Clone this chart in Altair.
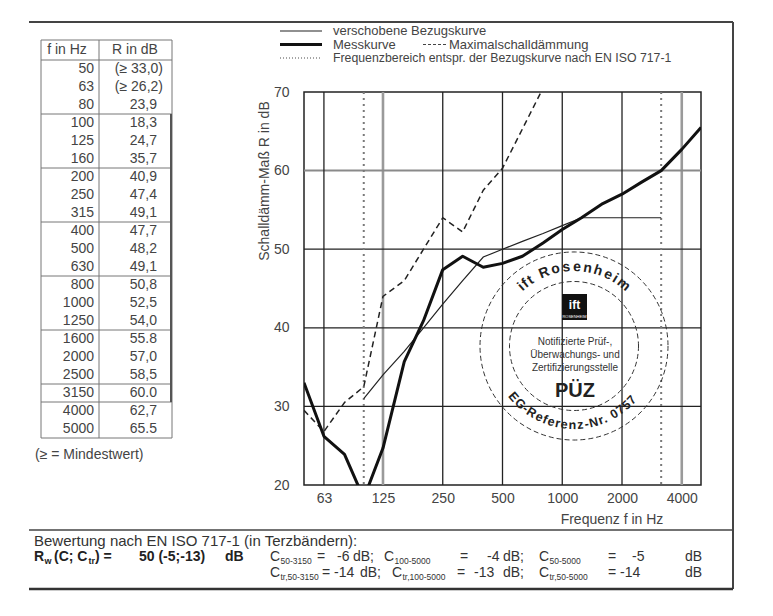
import altair as alt
import pandas as pd

# ---------------- data ----------------
freqs = [50, 63, 80, 100, 125, 160, 200, 250, 315, 400, 500, 630, 800, 1000, 1250, 1600, 2000, 2500, 3150, 4000, 5000]
r_measured = [33.0, 26.2, 23.9, 18.3, 24.7, 35.7, 40.9, 47.4, 49.1, 47.7, 48.2, 49.1, 50.8, 52.5, 54.0, 55.8, 57.0, 58.5, 60.0, 62.7, 65.5]
r_labels = ["(≥ 33,0)", "(≥ 26,2)", "23,9", "18,3", "24,7", "35,7", "40,9", "47,4", "49,1", "47,7", "48,2",
            "49,1", "50,8", "52,5", "54,0", "55.8", "57,0", "58,5", "60.0", "62,7", "65.5"]
ref_freqs = [100, 125, 160, 200, 250, 315, 400, 500, 630, 800, 1000, 1250, 1600, 2000, 2500, 3150]
ref_shifted = [31, 34, 37, 40, 43, 46, 49, 50, 51, 52, 53, 54, 54, 54, 54, 54]
max_freqs = [50, 63, 80, 100, 125, 160, 200, 250, 315, 400, 500, 630, 800]
max_values = [29.5, 26.8, 30.5, 32.5, 44.0, 46.0, 50.0, 54.0, 52.2, 57.5, 60.3, 65.3, 70.5]
x_tick_values = [63, 125, 250, 500, 1000, 2000, 4000]
y_tick_values = [20, 30, 40, 50, 60, 70]
grid_f_dark = [63, 250, 500, 1000, 2000]
grid_f_light = [125, 4000]
grid_r_dark = [30, 40, 50]
grid_r_light = [60]
range_limits = [100, 3150]
table_group_rows = [2, 5, 8, 11, 14, 17, 18]   # separator drawn below these rows

# ---------------- layout ----------------
OX, OY = 304, 92          # page position of plot origin
W, H = 397, 393
FONT = "Liberation Sans"
INK = "#3a3a3a"

X = alt.X("f:Q", scale=alt.Scale(type="log", domain=[50, 5000], nice=False),
          axis=alt.Axis(values=x_tick_values, format="d", title=None, grid=False, ticks=False,
                        domain=False, labelPadding=6, labelFontSize=14, labelColor="#444",
                        labelFont=FONT, labelFlush=False, labelOverlap=False))
Y = alt.Y("r:Q", scale=alt.Scale(domain=[20, 70], nice=False, zero=False),
          axis=alt.Axis(values=y_tick_values, title=None, grid=False, ticks=False, domain=False,
                        labelPadding=15, labelFontSize=14, labelColor="#444", labelFont=FONT,
                        labelFlush=False, labelOverlap=False))


def segs(items, color, width, dash=None):
    df = pd.DataFrame(items, columns=["x1", "y1", "x2", "y2"])
    df[["x1", "x2"]] = df[["x1", "x2"]] - OX
    df[["y1", "y2"]] = df[["y1", "y2"]] - OY
    kw = dict(color=color, strokeWidth=width)
    if dash:
        kw["strokeDash"] = dash
    return alt.Chart(df).mark_rule(**kw).encode(
        x=alt.X("x1:Q", scale=None, axis=None), x2="x2:Q",
        y=alt.Y("y1:Q", scale=None, axis=None), y2="y2:Q")


def texts(items, size=14, weight="normal", align="left", color=INK, angle=None, baseline="middle"):
    df = pd.DataFrame(items, columns=["t", "x", "y"])
    df["x"] = df["x"] - OX
    df["y"] = df["y"] - OY
    kw = dict(size=size, fontWeight=weight, align=align, baseline=baseline, color=color, font=FONT)
    if angle is not None:
        kw["angle"] = angle
    return alt.Chart(df).mark_text(**kw).encode(
        x=alt.X("x:Q", scale=None, axis=None), y=alt.Y("y:Q", scale=None, axis=None), text="t:N")


layers = []

# grid
layers.append(alt.Chart(pd.DataFrame({"f": grid_f_light})).mark_rule(color="#9a9a9a", strokeWidth=2.6).encode(x=X))
layers.append(alt.Chart(pd.DataFrame({"r": grid_r_light})).mark_rule(color="#8a8a8a", strokeWidth=2).encode(y=Y))
layers.append(alt.Chart(pd.DataFrame({"f": grid_f_dark})).mark_rule(color="#222", strokeWidth=1.3).encode(x=X))
layers.append(alt.Chart(pd.DataFrame({"r": grid_r_dark})).mark_rule(color="#222", strokeWidth=1.3).encode(y=Y))
layers.append(alt.Chart(pd.DataFrame({"f": range_limits})).mark_rule(
    color="#7a7a7a", strokeWidth=2, strokeDash=[2, 4]).encode(x=X))

# ---------------- stamp ----------------
CX, CY = 574 - OX, 346 - OY
layers.append(alt.Chart(pd.DataFrame({"d": [188, 129]})).transform_calculate(s="datum.d*datum.d").mark_point(
    shape="circle", filled=False, stroke="#333", strokeWidth=1, strokeDash=[5, 3], opacity=1).encode(
    x=alt.value(CX), y=alt.value(CY), size=alt.Size("s:Q", scale=None, legend=None)))


def char_w(c):
    if c in "ijl.": return 0.28
    if c in "ft -": return 0.34
    if c == "r": return 0.39
    if c.isdigit(): return 0.556
    if c.isupper(): return 0.72
    if c == "m": return 0.89
    return 0.6


def arc_chars(s, a_start, a_end):
    ws = [char_w(c) for c in s]
    cum, pos = 0, []
    for w in ws:
        pos.append(cum + w / 2)
        cum += w
    p0, p1 = pos[0], pos[-1]
    return pd.DataFrame({"c": list(s), "a": [a_start + (p - p0) / (p1 - p0) * (a_end - a_start) for p in pos]})


R_TXT = 79
top = arc_chars("ift Rosenheim", -42, 39)
layers.append(alt.Chart(top).transform_calculate(
    px=f"{CX} + {R_TXT}*sin(datum.a*PI/180)",
    py=f"{CY} - {R_TXT}*cos(datum.a*PI/180)",
    ang="(datum.a + 360) % 360").mark_text(
    size=14, fontWeight="bold", color="#222", font=FONT, baseline="middle", align="center").encode(
    x=alt.X("px:Q", scale=None, axis=None), y=alt.Y("py:Q", scale=None, axis=None),
    text="c:N", angle=alt.Angle("ang:Q", scale=None)))
bot = arc_chars("EG-Referenz-Nr. 0757", 50, -47)
layers.append(alt.Chart(bot).transform_calculate(
    px=f"{CX} - {R_TXT}*sin(datum.a*PI/180)",
    py=f"{CY} + {R_TXT}*cos(datum.a*PI/180)",
    ang="(datum.a + 360) % 360").mark_text(
    size=12.5, fontWeight="bold", color="#222", font=FONT, baseline="middle", align="center").encode(
    x=alt.X("px:Q", scale=None, axis=None), y=alt.Y("py:Q", scale=None, axis=None),
    text="c:N", angle=alt.Angle("ang:Q", scale=None)))
layers.append(alt.Chart(pd.DataFrame({"k": [0]})).mark_rect(color="#111").encode(
    x=alt.value(562 - OX), x2=alt.value(587 - OX), y=alt.value(294 - OY), y2=alt.value(320 - OY)))
layers.append(texts([("ift", 574.5, 305)], size=12, weight="bold", align="center", color="white"))
layers.append(texts([("ROSENHEIM", 574.5, 316.5)], size=4, align="center", color="white"))
layers.append(texts([("Notifizierte Prüf-,", 575, 342), ("Überwachungs- und", 575, 355),
                     ("Zertifizierungsstelle", 575, 368)], size=10, align="center", color="#333"))
layers.append(texts([("PÜZ", 575, 391)], size=20, weight="bold", align="center", color="#222"))

# ---------------- curves ----------------
layers.append(alt.Chart(pd.DataFrame({"f": ref_freqs, "r": ref_shifted})).mark_line(
    color="#222", strokeWidth=1.2, clip=True).encode(x=X, y=Y))
layers.append(alt.Chart(pd.DataFrame({"f": max_freqs, "r": max_values})).mark_line(
    color="#222", strokeWidth=1.5, strokeDash=[6, 4], clip=True).encode(x=X, y=Y))
layers.append(alt.Chart(pd.DataFrame({"f": freqs, "r": r_measured})).mark_line(
    color="#111", strokeWidth=3, clip=True, strokeJoin="round").encode(x=X, y=Y))

# ---------------- axis titles ----------------
layers.append(texts([("Schalldämm-Maß R in dB", 265, 181)], size=14, align="center", angle=270, color="#444"))
layers.append(texts([("Frequenz f in Hz", 612, 520)], size=14, align="center", color="#444"))

# ---------------- legend ----------------
layers.append(segs([(280, 31, 322, 31)], "#222", 1.2))
layers.append(segs([(280, 44.5, 322, 44.5)], "#111", 3))
layers.append(segs([(280, 58, 322, 58)], "#888", 1.5, [1, 2]))
layers.append(segs([(423, 44.5, 447, 44.5)], "#444", 1, [3, 2]))
layers.append(texts([("verschobene Bezugskurve", 333, 31), ("Messkurve", 333, 44.5)], size=13, color="#444"))
layers.append(texts([("Maximalschalldämmung", 449, 44.5)], size=13, color="#444"))
layers.append(texts([("Frequenzbereich entspr. der Bezugskurve nach EN ISO 717-1", 333, 58)],
                    size=12.3, color="#444"))

# ---------------- frame ----------------
layers.append(segs([(29, 22, 733, 22), (733, 22, 733, 589)], "#444", 2))
layers.append(segs([(29, 530, 733, 530)], "#444", 1.5))
layers.append(segs([(29, 589, 733, 589)], "#333", 2.5))

# ---------------- table ----------------
T_TOP, T_HEAD, RH = 40, 60, 18
t_bottom = T_HEAD + RH * len(freqs)
hlines = [(41, T_TOP, 172, T_TOP), (41, T_HEAD, 172, T_HEAD), (41, t_bottom, 172, t_bottom)]
hlines += [(41, T_HEAD + RH * (k + 1), 172, T_HEAD + RH * (k + 1)) for k in table_group_rows]
vlines = [(x, T_TOP, x, t_bottom) for x in (41, 99, 172)]
layers.append(segs(hlines + vlines, "#777", 1))
layers.append(segs([(171, T_HEAD + RH * 3, 171, T_HEAD + RH * 19)], "#555", 2))
layers.append(texts([("f in Hz", 67, 50), ("R in dB", 135, 50)], size=14, align="center", color="#444"))
tab = pd.DataFrame({"f": freqs, "lab": r_labels, "row": list(range(len(freqs)))})
row_y = f"{T_HEAD + RH / 2 - OY} + datum.row*{RH}"
layers.append(alt.Chart(tab).transform_calculate(px=f"{94 - OX}", py=row_y).mark_text(
    align="right", baseline="middle", size=14, font=FONT, color="#444").encode(
    x=alt.X("px:Q", scale=None, axis=None), y=alt.Y("py:Q", scale=None, axis=None),
    text=alt.Text("f:Q", format="d")))
layers.append(alt.Chart(tab).transform_calculate(
    px=f"indexof(datum.lab, ')') >= 0 ? {163 - OX} : {157 - OX}", py=row_y).mark_text(
    align="right", baseline="middle", size=14, font=FONT, color="#444").encode(
    x=alt.X("px:Q", scale=None, axis=None), y=alt.Y("py:Q", scale=None, axis=None), text="lab:N"))
layers.append(texts([("(≥ = Mindestwert)", 35, 455)], size=14, color="#444"))

# ---------------- rating block ----------------
Y1, Y2, Y3 = 541, 557, 573
layers.append(texts([("Bewertung nach EN ISO 717-1 (in Terzbändern):", 34, Y1)], size=15, color="#333"))
layers.append(texts([("R", 34, Y2), ("(C; C", 54, Y2), (") =", 95, Y2), ("50 (-5;-13)", 139, Y2), ("dB", 225, Y2)],
                    size=14, weight="bold", color="#222"))
layers.append(texts([("w", 44.5, Y2 + 4), ("tr", 88.5, Y2 + 4)], size=9, weight="bold", color="#222"))
layers.append(texts([("C", 270, Y2), ("=", 317, Y2), ("-6", 337, Y2), ("dB;", 353, Y2),
                     ("C", 384, Y2), ("=", 460, Y2), ("-4", 487, Y2), ("dB;", 503, Y2),
                     ("C", 539, Y2), ("=", 608, Y2), ("-5", 632, Y2), ("dB", 685, Y2),
                     ("C", 270, Y3), ("=", 322, Y3), ("-14", 334, Y3), ("dB;", 360, Y3),
                     ("C", 392, Y3), ("=", 457, Y3), ("-13", 474, Y3), ("dB;", 503, Y3),
                     ("C", 539, Y3), ("=", 608, Y3), ("-14", 620, Y3), ("dB", 685, Y3)],
                    size=14, color="#333"))
layers.append(texts([("50-3150", 280.5, Y2 + 4), ("100-5000", 394.5, Y2 + 4), ("50-5000", 549.5, Y2 + 4),
                     ("tr,50-3150", 280.5, Y3 + 4), ("tr,100-5000", 402.5, Y3 + 4), ("tr,50-5000", 549.5, Y3 + 4)],
                    size=8.5, color="#333"))

chart = alt.layer(*layers).properties(
    width=W, height=H,
    autosize=alt.AutoSizeParams(type="none"),
    padding={"left": OX - 8, "top": OY - 8, "right": 757 - (OX - 8) - W, "bottom": 600 - (OY - 8) - H},
    background="white",
).configure_view(stroke="#222", strokeWidth=1.5)

chart.save("out.html", embed_options={"renderer": "svg", "actions": False})
